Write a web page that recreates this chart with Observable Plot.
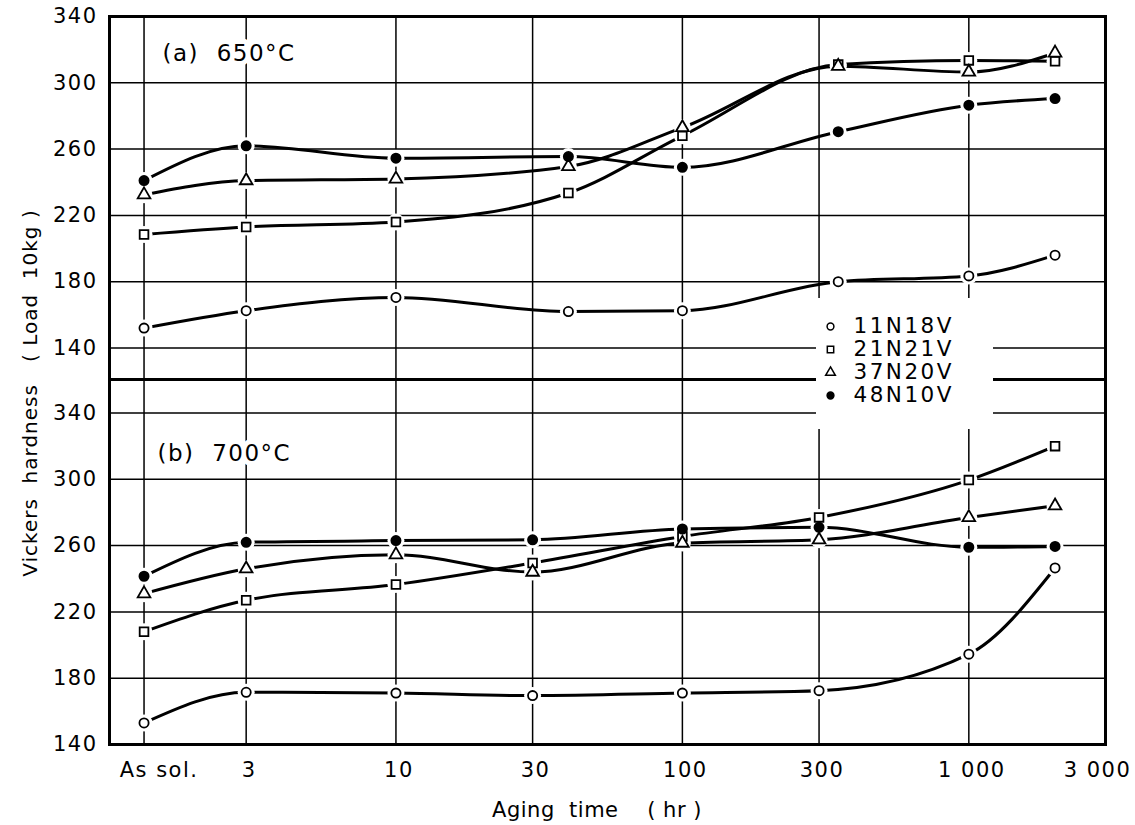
<!DOCTYPE html>
<html>
<head>
<meta charset="utf-8">
<script src="https://cdn.jsdelivr.net/npm/d3@7"></script>
<script src="https://cdn.jsdelivr.net/npm/@observablehq/plot@0.6"></script>
<style>
  body { margin: 0; background: white; }
  #chart { position: relative; width: 1135px; height: 825px; font-family: "DejaVu Sans", sans-serif; color: black; overflow: hidden; }
  #panelA, #panelB, #legend, .axis-title { position: absolute; }
  #panelA { left: 0; top: 0; }
  #panelB { left: 0; top: 379px; }
  #panelA text, #panelB text { letter-spacing: 1.5px; }
  #legend { left: 816px; top: 298px; width: 177px; height: 131px; background: white; }
  #legend text { letter-spacing: 2.5px; }
  .axis-title { white-space: pre; transform-origin: center; }
  #ytitle { left: 30px; top: 393px; font-size: 20px; letter-spacing: 1px; transform: translate(-50%, -50%) rotate(-90deg); }
  #xtitle { left: 597px; top: 810px; font-size: 21px; letter-spacing: 0.5px; transform: translate(-50%, -50%); }
</style>
</head>
<body>
<div id="chart">
  <div id="panelA"></div>
  <div id="panelB"></div>
  <div id="legend"></div>
  <div class="axis-title" id="ytitle">Vickers  hardness   ( Load  10kg )</div>
  <div class="axis-title" id="xtitle">Aging  time    ( hr )</div>
</div>
<script>
// Alloys, in legend order
const alloys = ["11N18V", "21N21V", "37N20V", "48N10V"];

// "As sol." (solution treated, not aged) is shown left of 3 hr on the log axis
const AS_SOL = 1.32;
const xTicks = [3, 10, 30, 100, 300, 1000];
const xTickLabels = ["3", "10", "30", "100", "300", "1 000"];
const xEndTick = 3000;
const xEndLabel = "3 000";
const xGrid = [AS_SOL, 3, 10, 30, 100, 300, 1000];
const yTicks = [140, 180, 220, 260, 300, 340];

// (a) aging at 650 °C — Vickers hardness (HV, load 10 kg)
const timesA = [AS_SOL, 3, 10, 40, 100, 350, 1000, 2000];
const hvA_11N18V = [152, 162.5, 170.5, 162, 162.5, 180, 183.5, 196];
const hvA_21N21V = [208.5, 213, 216, 233.5, 268, 311, 313.5, 313];
const hvA_37N20V = [232.5, 241, 242, 249.5, 273, 310, 306.5, 318];
const hvA_48N10V = [241, 262, 254.5, 255.5, 249, 270.5, 286.5, 290.5];

// (b) aging at 700 °C
const timesB = [AS_SOL, 3, 10, 30, 100, 300, 1000, 2000];
const hvB_11N18V = [153, 171.5, 171, 169.5, 171, 172.5, 194.5, 246.5];
const hvB_21N21V = [208, 227, 236.5, 249.5, 265.5, 277, 299.5, 320];
const hvB_37N20V = [231, 246, 254.5, 244, 261.5, 263.5, 277, 284];
const hvB_48N10V = [241.5, 262, 263, 263.5, 270, 271, 259, 259.5];

// Marker style per alloy
const markerStyle = {
  "11N18V": {symbol: "circle", r: 4.6, fill: "white"},
  "21N21V": {symbol: "square", r: 4.9, fill: "white"},
  "37N20V": {symbol: "triangle", r: 4.7, fill: "white"},
  "48N10V": {symbol: "circle", r: 4.6, fill: "black"}
};
const legendStyle = {
  "11N18V": {symbol: "circle", r: 3.4, fill: "white"},
  "21N21V": {symbol: "square", r: 3.6, fill: "white"},
  "37N20V": {symbol: "triangle", r: 3.6, fill: "white"},
  "48N10V": {symbol: "circle", r: 3.4, fill: "black"}
};

function tidy(times, columns) {
  return columns.flatMap((values, i) =>
    values.map((hv, j) => ({alloy: alloys[i], t: times[j], hv})));
}

const rowsA = tidy(timesA, [hvA_11N18V, hvA_21N21V, hvA_37N20V, hvA_48N10V]);
const rowsB = tidy(timesB, [hvB_11N18V, hvB_21N21V, hvB_37N20V, hvB_48N10V]);

const plotStyle = {fontFamily: "DejaVu Sans, sans-serif", fontSize: "21px", background: "transparent", color: "black"};

function panel({rows, yDomain, height, marginTop, marginBottom, label, labelDx, labelDy, withXAxis}) {
  const marks = [
    Plot.gridY(yTicks, {stroke: "black", strokeOpacity: 1, strokeWidth: 1.5}),
    Plot.gridX(xGrid, {stroke: "black", strokeOpacity: 1, strokeWidth: 1.5}),
    Plot.line(rows, {x: "t", y: "hv", z: "alloy", curve: "monotone-x", stroke: "black", strokeWidth: 3}),
    // white knock-out around every marker, so lines and grid stop short of it
    Plot.dot(rows, {x: "t", y: "hv", r: 8.5, fill: "white", stroke: "none"}),
    ...alloys.map(a => Plot.dot(rows.filter(d => d.alloy === a), {
      x: "t", y: "hv", ...markerStyle[a], stroke: "black", strokeWidth: 1.8
    })),
    Plot.text([label], {
      frameAnchor: "top-left", dx: labelDx, dy: labelDy, textAnchor: "start", lineAnchor: "middle",
      fontSize: 23, fill: "black", stroke: "white", strokeWidth: 10, paintOrder: "stroke"
    }),
    Plot.axisY(yTicks, {tickSize: 0, tickPadding: 12, fontSize: 21, label: null}),
    Plot.frame({stroke: "black", strokeWidth: 3})
  ];
  if (withXAxis) {
    marks.push(
      Plot.axisX(xTicks, {tickSize: 0, tickPadding: 18, fontSize: 21, label: null, dx: 3,
        tickFormat: d => xTickLabels[xTicks.indexOf(d)]}),
      Plot.axisX([xEndTick], {tickSize: 0, tickPadding: 18, fontSize: 21, label: null, dx: -8,
        tickFormat: () => xEndLabel}),
      Plot.axisX([AS_SOL], {tickSize: 0, tickPadding: 18, fontSize: 21, label: null, dx: 15,
        tickFormat: () => "As sol."})
    );
  }
  return Plot.plot({
    width: 1135, height, marginLeft: 109, marginRight: 30, marginTop, marginBottom,
    x: {type: "log", domain: [1, 3000], axis: withXAxis ? undefined : null},
    y: {domain: yDomain},
    style: plotStyle,
    marks
  });
}

document.getElementById("panelA").append(panel({
  rows: rowsA, yDomain: [121, 340], height: 379, marginTop: 16, marginBottom: 0,
  label: "(a)  650°C", labelDx: 53, labelDy: 37, withXAxis: false
}));

document.getElementById("panelB").append(panel({
  rows: rowsB, yDomain: [140, 360.2], height: 446, marginTop: 0, marginBottom: 81,
  label: "(b)  700°C", labelDx: 48, labelDy: 74, withXAxis: true
}));

document.getElementById("legend").append(Plot.plot({
  width: 177, height: 131, margin: 0,
  y: {type: "point", domain: alloys, range: [15, 110], axis: null},
  style: plotStyle,
  marks: [
    ...alloys.map(a => Plot.dot([a], {
      y: d => d, frameAnchor: "left", dx: 14, ...legendStyle[a], stroke: "black", strokeWidth: 1.5
    })),
    Plot.text(alloys, {
      y: d => d, text: d => d, frameAnchor: "left", dx: 37, textAnchor: "start",
      fontSize: 21.5, fill: "black"
    })
  ]
}));
</script>
</body>
</html>
